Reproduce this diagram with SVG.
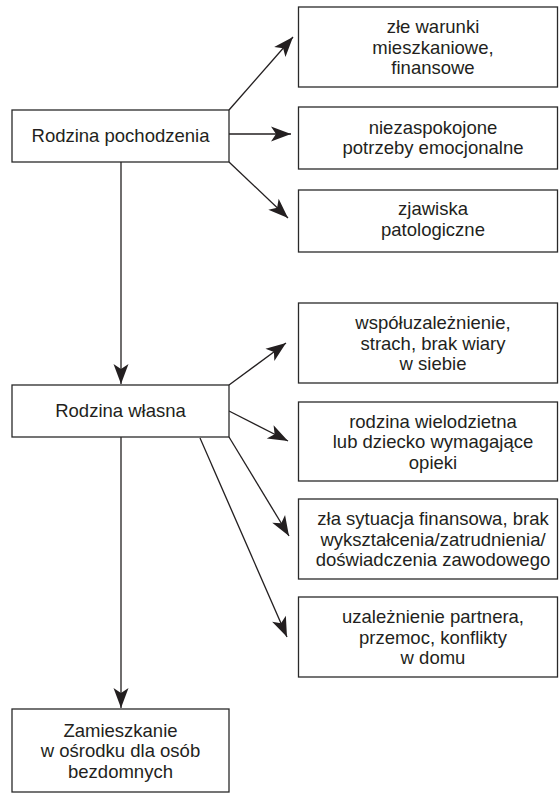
<svg xmlns="http://www.w3.org/2000/svg" width="559" height="793" viewBox="0 0 559 793">
  <style>
    .box { fill: #ffffff; stroke: #2a2a2a; stroke-width: 1.3; }
    .lbl { font-family: "Liberation Sans", Arial, sans-serif; font-size: 18.5px; fill: #231f20; text-anchor: middle; }
    .edge { stroke: #231f20; stroke-width: 1.3; fill: none; marker-end: url(#head); }
  </style>
  <defs>
    <marker id="head" markerUnits="userSpaceOnUse" markerWidth="24" markerHeight="18" refX="0" refY="0" viewBox="-21 -9 22 18" orient="auto">
      <path d="M0,0 L-20,-7.5 L-15,0 L-20,7.5 Z" fill="#231f20"/>
    </marker>
  </defs>

  <!-- connectors -->
  <g id="connectors">
    <line class="edge" x1="229" y1="110" x2="293" y2="37"/>
    <line class="edge" x1="229" y1="134" x2="291" y2="134"/>
    <line class="edge" x1="229" y1="162" x2="288" y2="218"/>
    <line class="edge" x1="121" y1="162" x2="121" y2="384"/>
    <line class="edge" x1="229" y1="385" x2="286" y2="343"/>
    <line class="edge" x1="229" y1="411" x2="288" y2="441"/>
    <line class="edge" x1="229" y1="437" x2="289" y2="536"/>
    <line class="edge" x1="200" y1="438" x2="287" y2="637"/>
    <line class="edge" x1="121" y1="437" x2="121" y2="708"/>
  </g>

  <!-- left column -->
  <g id="rodzina-pochodzenia">
    <rect class="box" x="12" y="110" width="217" height="52"/>
    <text class="lbl" x="120.5" y="142">Rodzina pochodzenia</text>
  </g>
  <g id="rodzina-wlasna">
    <rect class="box" x="12" y="385" width="217" height="52"/>
    <text class="lbl" x="120.5" y="417.3">Rodzina własna</text>
  </g>
  <g id="zamieszkanie">
    <rect class="box" x="12" y="709" width="217" height="83"/>
    <text class="lbl" x="120.5" y="736.5">Zamieszkanie</text>
    <text class="lbl" x="120.5" y="757">w ośrodku dla osób</text>
    <text class="lbl" x="120.5" y="777.5">bezdomnych</text>
  </g>

  <!-- right column, upper -->
  <g id="warunki">
    <rect class="box" x="298.5" y="7" width="259" height="80"/>
    <text class="lbl" x="433" y="33">złe warunki</text>
    <text class="lbl" x="433" y="53.5">mieszkaniowe,</text>
    <text class="lbl" x="433" y="74">finansowe</text>
  </g>
  <g id="potrzeby">
    <rect class="box" x="298.5" y="107" width="259" height="62"/>
    <text class="lbl" x="433" y="133.5">niezaspokojone</text>
    <text class="lbl" x="433" y="154">potrzeby emocjonalne</text>
  </g>
  <g id="zjawiska">
    <rect class="box" x="298.5" y="190" width="259" height="62"/>
    <text class="lbl" x="433" y="215">zjawiska</text>
    <text class="lbl" x="433" y="235.5">patologiczne</text>
  </g>

  <!-- right column, lower -->
  <g id="wspoluzaleznienie">
    <rect class="box" x="298.5" y="303" width="259" height="80"/>
    <text class="lbl" x="433" y="329">współuzależnienie,</text>
    <text class="lbl" x="433" y="349.5">strach, brak wiary</text>
    <text class="lbl" x="433" y="370">w siebie</text>
  </g>
  <g id="wielodzietna">
    <rect class="box" x="298.5" y="402" width="259" height="79"/>
    <text class="lbl" x="433" y="427.5">rodzina wielodzietna</text>
    <text class="lbl" x="433" y="448">lub dziecko wymagające</text>
    <text class="lbl" x="433" y="468.5">opieki</text>
  </g>
  <g id="sytuacja">
    <rect class="box" x="298.5" y="499" width="259" height="80"/>
    <text class="lbl" x="433" y="525">zła sytuacja finansowa, brak</text>
    <text class="lbl" x="433" y="545.5">wykształcenia/zatrudnienia/</text>
    <text class="lbl" x="433" y="566">doświadczenia zawodowego</text>
  </g>
  <g id="uzaleznienie">
    <rect class="box" x="298.5" y="597" width="259" height="80"/>
    <text class="lbl" x="433" y="623">uzależnienie partnera,</text>
    <text class="lbl" x="433" y="643.5">przemoc, konflikty</text>
    <text class="lbl" x="433" y="664">w domu</text>
  </g>
</svg>
